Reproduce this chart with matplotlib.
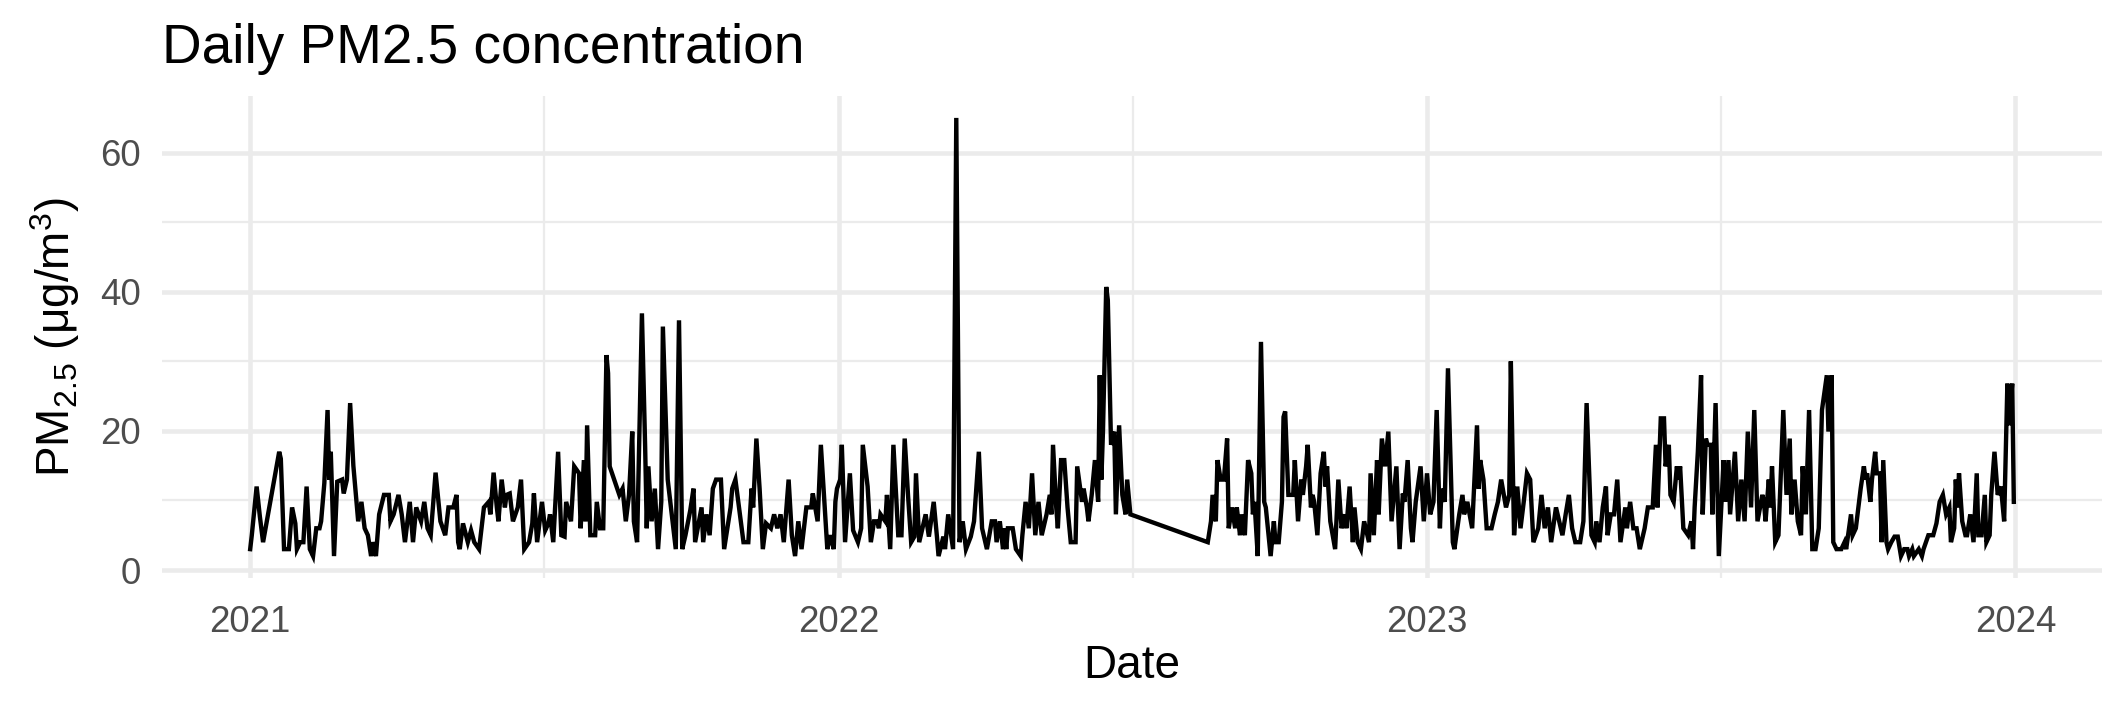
import numpy as np
import pandas as pd
import matplotlib
matplotlib.use("Agg")
import matplotlib.pyplot as plt
import matplotlib.dates as mdates

plt.rcParams['font.family'] = ['Liberation Sans', 'DejaVu Sans']
plt.rcParams['mathtext.default'] = 'regular'

# days since 2021-01-01 and the PM2.5 value
day = [
    0, 1, 4, 6, 8, 18, 19, 21, 24, 26, 28, 29, 31, 33, 35, 37, 39, 41, 43, 44,
    46, 48, 49, 50, 52, 54, 57, 58, 60, 62, 64, 66, 67, 69, 71, 73, 75, 76, 78, 80,
    83, 86, 87, 89, 92, 94, 96, 99, 101, 103, 106, 108, 110, 112, 115, 118, 121, 123, 126, 128,
    129, 130, 132, 135, 137, 139, 142, 143, 145, 148, 149, 151, 153, 154, 156, 158, 159, 161, 163, 166,
    168, 170, 173, 175, 176, 178, 181, 183, 185, 186, 188, 191, 193, 195, 196, 199, 201, 204, 205, 207,
    208, 209, 211, 214, 215, 217, 219, 221, 222, 223, 229, 231, 233, 235, 237, 238, 240, 243, 245, 246,
    247, 249, 251, 253, 255, 256, 259, 264, 266, 268, 270, 273, 275, 276, 280, 281, 283, 285, 287, 289,
    292, 294, 298, 299, 301, 306, 309, 311, 312, 314, 316, 318, 320, 323, 325, 327, 329, 331, 334, 336,
    338, 340, 342, 345, 348, 349, 352, 354, 358, 360, 362, 363, 364, 366, 367, 369, 372, 374, 377, 379,
    380, 383, 385, 387, 389, 390, 391, 394, 395, 397, 399, 402, 404, 406, 408, 410, 412, 413, 415, 418,
    419, 421, 424, 426, 427, 430, 431, 433, 436, 438, 440, 442, 444, 447, 449, 452, 454, 457, 460, 462,
    463, 465, 467, 468, 469, 470, 473, 475, 478, 479, 481, 483, 485, 487, 489, 491, 494, 496, 497, 498,
    500, 501, 503, 505, 507, 509, 512, 513, 516, 517, 519, 520, 522, 524, 526, 527, 528, 529, 531, 532,
    534, 536, 537, 539, 541, 543, 544, 546, 594, 596, 597, 599, 600, 602, 604, 606, 607, 609, 611, 612,
    614, 615, 617, 619, 621, 622, 623, 625, 627, 629, 630, 633, 635, 636, 638, 640, 641, 642, 644, 647,
    648, 650, 652, 653, 655, 656, 658, 659, 660, 662, 664, 666, 667, 668, 670, 673, 675, 677, 679, 680,
    682, 684, 685, 687, 689, 691, 694, 695, 697, 699, 700, 702, 704, 706, 708, 711, 713, 715, 716, 718,
    720, 721, 723, 726, 728, 730, 732, 734, 736, 738, 739, 741, 743, 746, 747, 750, 752, 753, 755, 758,
    761, 762, 763, 765, 767, 770, 772, 774, 776, 779, 781, 782, 784, 786, 788, 790, 792, 794, 796, 799,
    801, 803, 805, 807, 810, 811, 814, 816, 818, 820, 822, 825, 827, 829, 832, 834, 835, 837, 839, 841,
    842, 844, 846, 848, 850, 853, 854, 856, 858, 860, 862, 865, 867, 870, 872, 873, 875, 877, 878, 880,
    881, 883, 885, 886, 887, 889, 892, 894, 895, 896, 898, 900, 901, 903, 904, 906, 907, 909, 911, 914,
    915, 917, 918, 921, 923, 925, 927, 929, 931, 933, 935, 938, 939, 940, 942, 943, 944, 946, 948, 951,
    953, 955, 956, 958, 960, 962, 963, 965, 967, 969, 971, 973, 975, 978, 979, 981, 982, 984, 987, 989,
    990, 993, 994, 996, 998, 999, 1001, 1002, 1003, 1005, 1006, 1008, 1009, 1011, 1012, 1013, 1015, 1016, 1018, 1020,
    1022, 1024, 1026, 1028, 1029, 1031, 1032, 1035, 1037, 1038, 1041, 1044, 1046, 1048, 1050, 1052, 1054, 1055, 1057, 1058,
    1059, 1060, 1062, 1064, 1065, 1067, 1069, 1071, 1072, 1074, 1076, 1077, 1079, 1080, 1082, 1084, 1086, 1088, 1090, 1091,
    1093, 1094,
]

pm25 = [
    3, 5, 12, 7.7, 4, 17, 16, 3, 3, 9, 6.7, 3, 4, 4, 12, 3, 2, 6, 6, 7,
    12.5, 23, 13, 17, 2, 12.7, 13, 11, 13, 24, 15, 9.6, 7, 9.8, 6, 5, 2, 4, 2, 8,
    10.8, 10.8, 7, 8, 10.8, 8, 4, 9.8, 4, 9, 7, 9.8, 6, 5, 14, 7, 5, 9, 9, 10.8,
    4, 3, 6.7, 4, 5.7, 4, 3, 5, 9, 9.8, 8, 14, 9, 7, 13, 9, 10.8, 11, 7, 9,
    13, 3, 4, 6.7, 11, 4, 9.8, 5.7, 6.7, 8, 4, 17, 5, 4.8, 9.8, 7, 14.9, 13.9, 6, 15.8,
    7, 20.8, 5, 5, 9.8, 6, 6, 30.9, 28.3, 14.9, 10.8, 11.7, 7, 10.8, 19.9, 7, 4, 36.9, 17.7, 6,
    14.9, 7, 11.7, 3, 9.8, 35, 13, 3, 35.9, 3, 5, 8.6, 11.7, 4, 9, 4, 8, 5, 11.7, 13,
    13, 3, 9, 11.7, 13, 4, 4, 11.7, 9, 18.9, 11.7, 3, 6.7, 6, 8, 6, 8, 4, 13, 5,
    2, 7, 3, 9, 9, 11, 7, 18, 3, 5, 3, 9.8, 11.7, 13, 18, 4, 13.9, 5.7, 4, 6,
    18, 12, 4, 7, 7, 6, 8, 7, 10.8, 3, 18, 5, 5, 18.9, 11, 4, 4.8, 13.9, 4, 7,
    8, 4.8, 9.8, 4.8, 2, 4.8, 3, 8, 3, 65, 4, 7, 3, 4.8, 7, 17, 6, 3, 7, 7,
    4, 7, 3, 6, 3, 6, 6, 3, 2, 5, 9.8, 6, 13.9, 5, 9.8, 5, 8, 10.8, 8, 18,
    9, 6, 15.8, 15.8, 9, 4, 4, 14.9, 9.8, 11.7, 9, 7, 10.8, 15.8, 9.8, 28, 13, 20, 40.7, 38.8,
    18, 19.9, 8, 20.8, 10.8, 8, 13, 8, 4, 7, 10.8, 7, 15.8, 13, 13, 18.9, 6, 9, 6, 9,
    5, 8, 5, 15.8, 13.9, 8, 9.8, 2, 32.8, 9.8, 9, 2, 7, 4, 4, 9.8, 22, 22.8, 10.8, 10.8,
    15.8, 7, 13, 10.8, 14.9, 18, 9, 10.8, 9.8, 5, 13.9, 17, 12, 14.9, 7, 3, 13, 6, 8, 6,
    12, 4, 9, 4, 3, 7, 4, 13.9, 5, 15.8, 8, 18.9, 14.9, 19.9, 7, 14.9, 3, 11, 9.8, 15.8,
    6, 4, 9.8, 14.9, 7, 13.9, 8, 9.8, 23, 6, 11.7, 9.8, 29, 4, 3, 8, 10.8, 8, 9.8, 6,
    20.8, 11.7, 15.8, 13, 6, 6, 8, 9.8, 13, 9, 10.8, 30, 5, 12, 6, 9.8, 13.9, 13, 4, 6,
    10.8, 6, 9, 4, 9, 8, 5, 8, 10.8, 6, 4, 4, 7, 24, 5, 4, 7, 4, 9, 12,
    5, 8, 8, 13, 4, 9, 6, 9.8, 6, 6, 3, 6, 9, 9, 18, 9, 21.8, 21.8, 14.9, 18,
    10.8, 9.8, 14.9, 13, 14.9, 6, 5, 7, 3, 9, 17, 28, 8, 18.9, 18, 18, 8, 24, 2, 15.8,
    9.8, 15.8, 8, 17, 7, 13, 7, 19.9, 9, 23, 7, 10.8, 9.8, 7, 13, 9, 14.9, 4, 5, 23,
    10.8, 18.9, 8, 13, 7, 5, 14.9, 8, 23, 3, 3, 6, 23, 28, 19.9, 28, 4, 3, 3, 4,
    3, 8, 5, 6, 9.8, 11.7, 14.9, 13, 13.9, 9.8, 13, 17, 13.9, 13.9, 4, 15.8, 4, 3, 4, 4.8,
    4.8, 2, 3, 3, 2, 3, 2, 3, 2, 3, 5, 5, 6.7, 9.8, 10.8, 8, 9, 4, 6, 13,
    9, 13.9, 7, 5, 5, 8, 4, 13.9, 5, 5, 10.8, 4, 5, 10.8, 17, 10.8, 12, 7, 26.8, 20.8,
    26.8, 9.8,
]

dates = pd.Timestamp("2021-01-01") + pd.to_timedelta(day, unit="D")
year_breaks = pd.to_datetime(["2021-01-01", "2022-01-01", "2023-01-01", "2024-01-01"])
year_labels = ["2021", "2022", "2023", "2024"]
y_breaks = [0, 20, 40, 60]
y_minor = [10, 30, 50]

W, H, DPI = 2125, 708, 300
fig = plt.figure(figsize=(W / DPI, H / DPI), dpi=DPI)
ax = fig.add_axes([162 / W, 1 - 578 / H, (2102 - 162) / W, (578 - 96) / H])

ax.plot(dates, pm25, color="black", linewidth=1.05, solid_joinstyle="miter", zorder=3)
ax.margins(x=0.05, y=0.05)

# ggplot minimal theme: grey92 grid, minor lines half width, no spines/ticks
grid_col = "#EBEBEB"
xb = mdates.date2num(year_breaks)
ax.set_xticks(xb)
ax.set_xticklabels(year_labels)
ax.set_xticks((xb[:-1] + xb[1:]) / 2, minor=True)
ax.set_yticks(y_breaks)
ax.set_yticks(y_minor, minor=True)
ax.grid(True, which="major", color=grid_col, linewidth=1.1, zorder=0)
ax.grid(True, which="minor", color=grid_col, linewidth=0.55, zorder=0)
for s in ax.spines.values():
    s.set_visible(False)
ax.tick_params(which="both", length=0)
ax.tick_params(axis="x", pad=6.5, labelsize=8.8, labelcolor="#4D4D4D")
ax.tick_params(axis="y", pad=5, labelsize=8.8, labelcolor="#4D4D4D")

ax.set_xlabel("Date", fontsize=11, labelpad=1)
ax.set_ylabel("PM$_{2.5}$ (μg/m$^3$)", fontsize=11, labelpad=4.5)
ax.set_title("Daily PM2.5 concentration", fontsize=13.2, loc="left", pad=8)

fig.savefig("out.png", dpi=DPI)
